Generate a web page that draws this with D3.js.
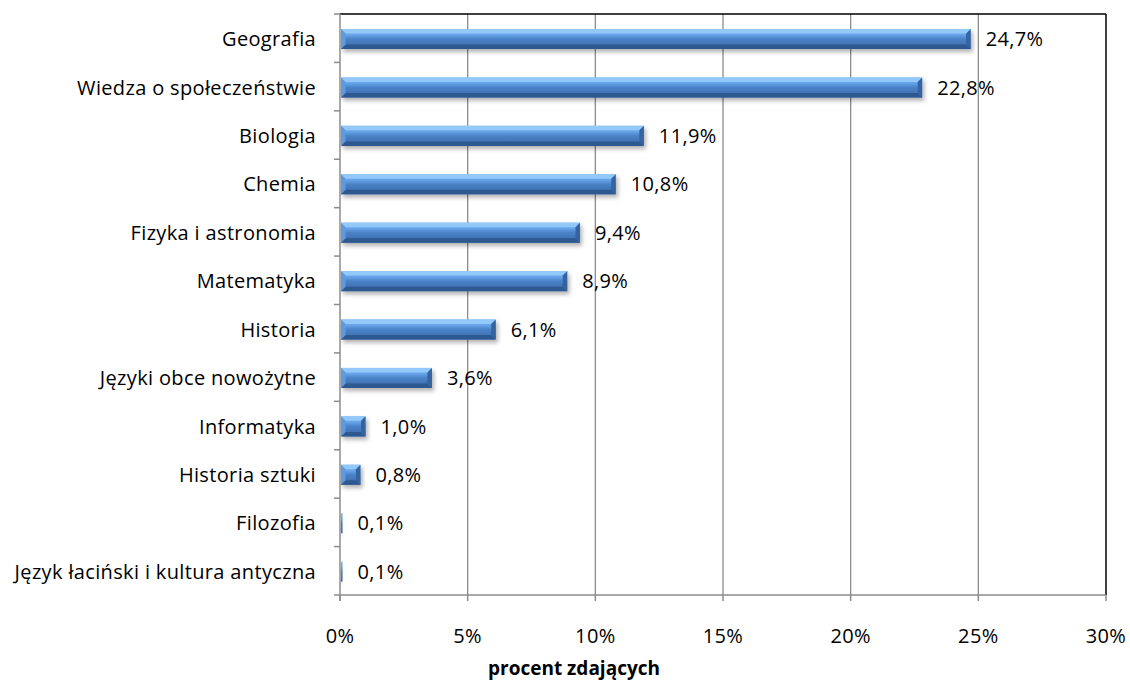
<!DOCTYPE html>
<html><head><meta charset="utf-8">
<script src="https://cdn.jsdelivr.net/npm/d3@7"></script>
<style>body{margin:0;background:#fff}svg{display:block}</style>
</head><body>
<svg id="c" width="1130" height="682"></svg>
<script>
const categories = ["Geografia","Wiedza o społeczeństwie","Biologia","Chemia","Fizyka i astronomia","Matematyka","Historia","Języki obce nowożytne","Informatyka","Historia sztuki","Filozofia","Język łaciński i kultura antyczna"];
const values = [24.7,22.8,11.9,10.8,9.4,8.9,6.1,3.6,1.0,0.8,0.1,0.1];
const valueLabels = ["24,7%","22,8%","11,9%","10,8%","9,4%","8,9%","6,1%","3,6%","1,0%","0,8%","0,1%","0,1%"];
const xTicks = [0,5,10,15,20,25,30];
const xTickLabels = ["0%","5%","10%","15%","20%","25%","30%"];
const axisTitle = "procent zdających";

const svg = d3.select("#c");
const L=340,R=1106,T=14,B=595;
const font = "'Open Sans', sans-serif";
const FS = 20, LS = 0.35;
const x = d3.scaleLinear().domain([0,30]).range([L,R]);
const y = d3.scaleBand().domain(categories).range([T,B]).paddingInner(0.585).paddingOuter(0.2925);

const defs = svg.append("defs");
const g = defs.append("linearGradient").attr("id","face").attr("x1",0).attr("y1",0).attr("x2",0).attr("y2",1);
[[0,"#7fbaf4"],[0.3,"#65a2e6"],[0.5,"#4a82c8"],[1,"#3a68a6"]].forEach(s=>g.append("stop").attr("offset",s[0]).attr("stop-color",s[1]));
const f = defs.append("filter").attr("id","sh").attr("x","-10%").attr("y","-50%").attr("width","130%").attr("height","250%");
f.append("feDropShadow").attr("dx",2).attr("dy",3).attr("stdDeviation",2).attr("flood-color","#000").attr("flood-opacity",0.3);

// gridlines
svg.append("g").selectAll("line").data(xTicks.slice(1,-1)).join("line")
  .attr("x1",d=>x(d)).attr("x2",d=>x(d)).attr("y1",T).attr("y2",B)
  .attr("stroke","#8c8c8c").attr("stroke-width",1.3);
// frame top/right
svg.append("line").attr("x1",L).attr("x2",R).attr("y1",T).attr("y2",T).attr("stroke","#000").attr("stroke-width",1.5);
svg.append("line").attr("x1",R).attr("x2",R).attr("y1",T).attr("y2",B).attr("stroke","#000").attr("stroke-width",1.5);

// bars
const bars = svg.append("g").attr("transform","translate(0,0.8)");
categories.forEach((c,i)=>{
  const x0=x(0)+1, x1=x(values[i]), y0=y(c), y1=y0+y.bandwidth();
  const w=x1-x0;
  const b=Math.max(0,Math.min(4.5,w/2));
  const grp=bars.append("g").attr("filter","url(#sh)");
  grp.append("rect").attr("x",x0).attr("y",y0).attr("width",Math.max(w,1)).attr("height",y1-y0).attr("fill","url(#face)");
  if(b>0.8){
    const poly=(pts,col)=>grp.append("polygon").attr("points",pts.map(p=>p.join(",")).join(" ")).attr("fill",col);
    poly([[x0,y0],[x1,y0],[x1-b,y0+b],[x0+b,y0+b]],"#92c8fa");
    poly([[x0,y1],[x1,y1],[x1-b,y1-b],[x0+b,y1-b]],"#2e5990");
    poly([[x0,y0],[x0+b,y0+b],[x0+b,y1-b],[x0,y1]],"#5e9ae0");
    poly([[x1,y0],[x1-b,y0+b],[x1-b,y1-b],[x1,y1]],"#34649f");
  }
  svg.append("text").attr("x",x1+15).attr("y",y0+0.8+y.bandwidth()/2).attr("dy","0.36em")
    .attr("font-family",font).attr("font-size",FS).attr("letter-spacing",LS).attr("fill","#000").text(valueLabels[i]);
});

// axes
svg.append("line").attr("x1",L).attr("x2",L).attr("y1",T).attr("y2",B+6).attr("stroke","#8c8c8c").attr("stroke-width",1.5);
svg.append("line").attr("x1",L-6).attr("x2",R).attr("y1",B).attr("y2",B).attr("stroke","#8c8c8c").attr("stroke-width",1.5);
const step=(B-T)/categories.length;
svg.append("g").selectAll("line").data(d3.range(categories.length)).join("line")
  .attr("x1",L-6).attr("x2",L).attr("y1",d=>T+d*step).attr("y2",d=>T+d*step).attr("stroke","#8c8c8c").attr("stroke-width",1.5);
svg.append("g").selectAll("line").data(xTicks).join("line")
  .attr("x1",d=>x(d)).attr("x2",d=>x(d)).attr("y1",B).attr("y2",B+6).attr("stroke","#8c8c8c").attr("stroke-width",1.5);
svg.append("g").selectAll("text").data(xTicks).join("text")
  .attr("x",d=>x(d)).attr("y",636).attr("dy","0.36em").attr("text-anchor","middle")
  .attr("font-family",font).attr("font-size",FS).attr("letter-spacing",LS).text((d,i)=>xTickLabels[i]);
svg.append("g").selectAll("text").data(categories).join("text")
  .attr("x",316).attr("y",d=>y(d)+0.8+y.bandwidth()/2).attr("dy","0.36em").attr("text-anchor","end")
  .attr("font-family",font).attr("font-size",FS).attr("letter-spacing",LS).text(d=>d);
svg.append("text").attr("x",574).attr("y",675).attr("text-anchor","middle")
  .attr("font-family",font).attr("font-size",19).attr("font-weight","bold").text(axisTitle);
</script>
</body></html>
